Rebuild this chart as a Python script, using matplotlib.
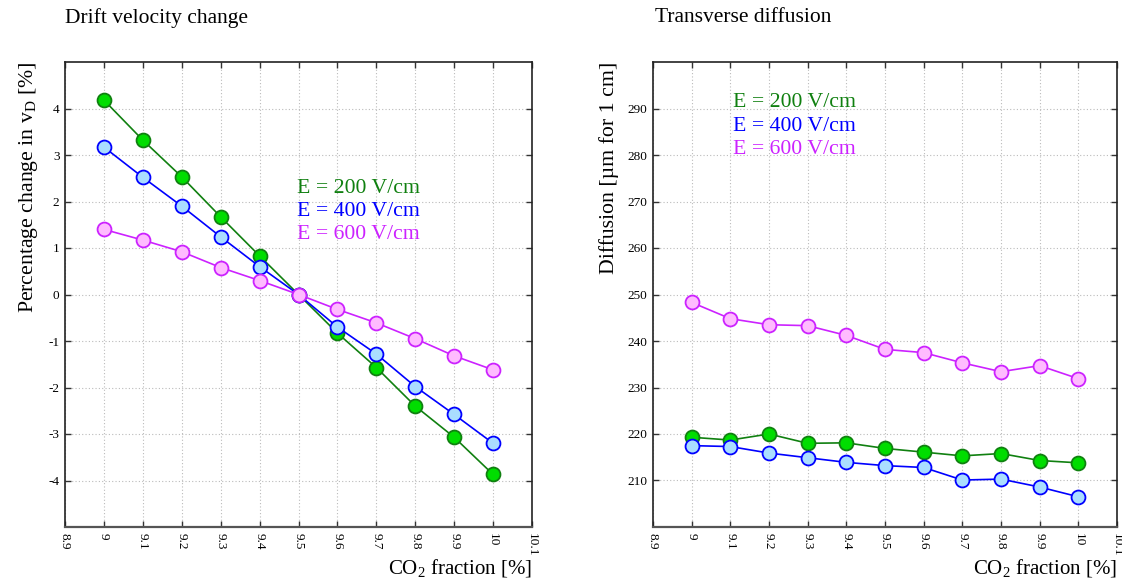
import matplotlib
matplotlib.use("Agg")
import matplotlib.pyplot as plt
import numpy as np

plt.rcParams['font.family'] = ['Liberation Serif', 'DejaVu Serif']
plt.rcParams['mathtext.fontset'] = 'custom'
plt.rcParams['mathtext.rm'] = 'Liberation Serif'
plt.rcParams['mathtext.it'] = 'Liberation Serif:italic'

# data
co2 = [9.0, 9.1, 9.2, 9.3, 9.4, 9.5, 9.6, 9.7, 9.8, 9.9, 10.0]
fields = ['E = 200 V/cm', 'E = 400 V/cm', 'E = 600 V/cm']

vd_200 = [4.18, 3.32, 2.53, 1.67, 0.83, 0.0, -0.83, -1.57, -2.40, -3.07, -3.87]
vd_400 = [3.17, 2.52, 1.90, 1.24, 0.60, 0.0, -0.70, -1.28, -1.98, -2.58, -3.20]
vd_600 = [1.40, 1.17, 0.92, 0.58, 0.30, 0.0, -0.32, -0.61, -0.95, -1.32, -1.62]

dt_200 = [219.3, 218.7, 220.0, 218.0, 218.1, 216.9, 216.1, 215.3, 215.8, 214.3, 213.8]
dt_400 = [217.5, 217.3, 215.9, 214.9, 213.9, 213.2, 212.8, 210.1, 210.3, 208.6, 206.5]
dt_600 = [248.3, 244.8, 243.5, 243.3, 241.2, 238.2, 237.5, 235.3, 233.4, 234.7, 231.9]

xticks = [8.9, 9.0, 9.1, 9.2, 9.3, 9.4, 9.5, 9.6, 9.7, 9.8, 9.9, 10.0, 10.1]
xticklabels = ['8.9', '9', '9.1', '9.2', '9.3', '9.4', '9.5', '9.6', '9.7', '9.8', '9.9', '10', '10.1']

# line colour, marker face, marker edge, text colour
styles = [
    ('#108010', '#00dd00', '#108010', '#108010'),
    ('#0000ff', '#aaddff', '#0000ff', '#0000ff'),
    ('#cc22ff', '#ffbbff', '#cc22ff', '#cc22ff'),
]

fig = plt.figure(figsize=(11.22, 5.84), dpi=100)
ax1 = fig.add_axes([65/1122, 57/584, 467/1122, 465/584])
ax2 = fig.add_axes([653/1122, 57/584, 464/1122, 465/584])


def setup(ax, ylim, yticks):
    ax.set_xlim(8.9, 10.1)
    ax.set_ylim(*ylim)
    ax.set_xticks(xticks)
    ax.set_xticklabels(xticklabels, rotation=270)
    ax.set_yticks(yticks)
    ax.set_yticklabels([str(t) for t in yticks])
    ax.tick_params(direction='in', top=True, right=True, length=4, width=1,
                   color='#333333', labelsize=9.5, pad=4)
    ax.grid(True, linestyle=(0, (1, 2)), color='#bbbbbb', linewidth=0.8)
    for s in ax.spines.values():
        s.set_color('#222222')
        s.set_linewidth(1.2)
    ax.spines['bottom'].set_color('#555555')
    ax.spines['bottom'].set_linewidth(1.6)
    ax.set_xlabel('CO$_2$ fraction [%]', fontsize=15, loc='right', labelpad=1)


def draw(ax, series):
    for ys, (lc, fc, ec, tc) in zip(series, styles):
        ax.plot(co2, ys, color=lc, lw=1.2, marker='o', ms=10,
                mfc=fc, mec=ec, mew=1.3, zorder=3)


setup(ax1, (-5, 5), [-4, -3, -2, -1, 0, 1, 2, 3, 4])
draw(ax1, [vd_200, vd_400, vd_600])
ax1.set_ylabel('Percentage change in v$_\\mathrm{D}$ [%]', fontsize=15.7, loc='top', labelpad=6)
for i, (label, st) in enumerate(zip(fields, styles)):
    ax1.text(0.497, 0.729 - 0.0505 * i, label, color=st[3], fontsize=15.7,
             transform=ax1.transAxes, va='center', ha='left')

setup(ax2, (200, 300), [210, 220, 230, 240, 250, 260, 270, 280, 290])
draw(ax2, [dt_200, dt_400, dt_600])
ax2.set_ylabel('Diffusion [µm for 1 cm]', fontsize=15.7, loc='top', labelpad=6)
for i, (label, st) in enumerate(zip(fields, styles)):
    ax2.text(0.172, 0.912 - 0.0505 * i, label, color=st[3], fontsize=15.7,
             transform=ax2.transAxes, va='center', ha='left')

fig.text(65/1122, 1 - 18/584, 'Drift velocity change', fontsize=15.5, va='center', ha='left')
fig.text(655/1122, 1 - 18/584, 'Transverse diffusion', fontsize=15.5, va='center', ha='left')

fig.savefig('out.png', dpi=100)
